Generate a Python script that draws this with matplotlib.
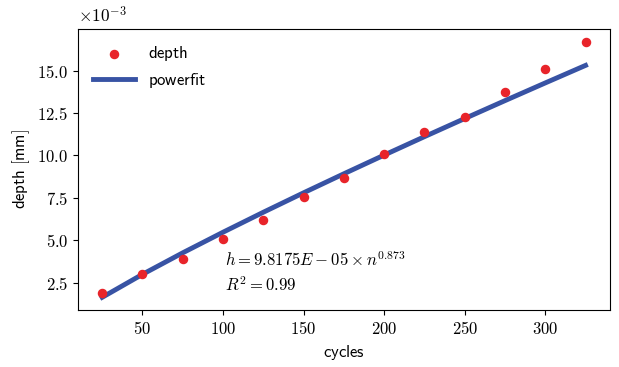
import numpy as np
import matplotlib
matplotlib.use('Agg')
import matplotlib.pyplot as plt
from matplotlib.ticker import FuncFormatter

plt.rcParams['mathtext.fontset'] = 'cm'
plt.rcParams['font.family'] = 'DejaVu Sans'

# data (depth in units of 1e-3 mm)
cycles = [25, 50, 75, 100, 125, 150, 175, 200, 225, 250, 275, 300, 325]
depth = [1.91, 3.02, 3.90, 5.10, 6.22, 7.52, 8.66, 10.08, 11.36, 12.24, 13.72, 15.12, 16.70]
# power fit h = 9.8175E-05 * n^0.873, tabulated at the same cycles
fit = [1.631, 2.987, 4.255, 5.470, 6.647, 7.794, 8.916, 10.018, 11.104, 12.173, 13.229, 14.273, 15.307]

fig, ax = plt.subplots(figsize=(6.19, 3.67), dpi=100)
ax.scatter(cycles, depth, color='#e8242a', s=34, zorder=3, label=r'$\mathsf{depth}$')
ax.plot(cycles, fit, color='#3853a4', lw=3.5, label=r'$\mathsf{powerfit}$')

ax.set_xlabel(r'$\mathsf{cycles}$', fontsize=12)
ax.set_ylabel(r'$\mathsf{depth\ [mm]}$', fontsize=12)

ax.xaxis.set_major_formatter(FuncFormatter(lambda v, p: r'$%d$' % v))
ax.yaxis.set_major_formatter(FuncFormatter(lambda v, p: r'$%.1f$' % v))
ax.tick_params(labelsize=12)
ax.text(0.0, 1.01, r'$\times10^{-3}$', transform=ax.transAxes, fontsize=12.5,
        ha='left', va='bottom')

ax.text(101, 2.0, r'$h = 9.8175E-05\times n^{0.873}$' + '\n' + r'$R^2 = 0.99$',
        fontsize=12, linespacing=1.4)

ax.legend(loc='upper left', frameon=False, fontsize=12, handlelength=2.5)

fig.subplots_adjust(left=0.126, right=0.985, top=0.921, bottom=0.155)
fig.savefig('out.png', dpi=100)
